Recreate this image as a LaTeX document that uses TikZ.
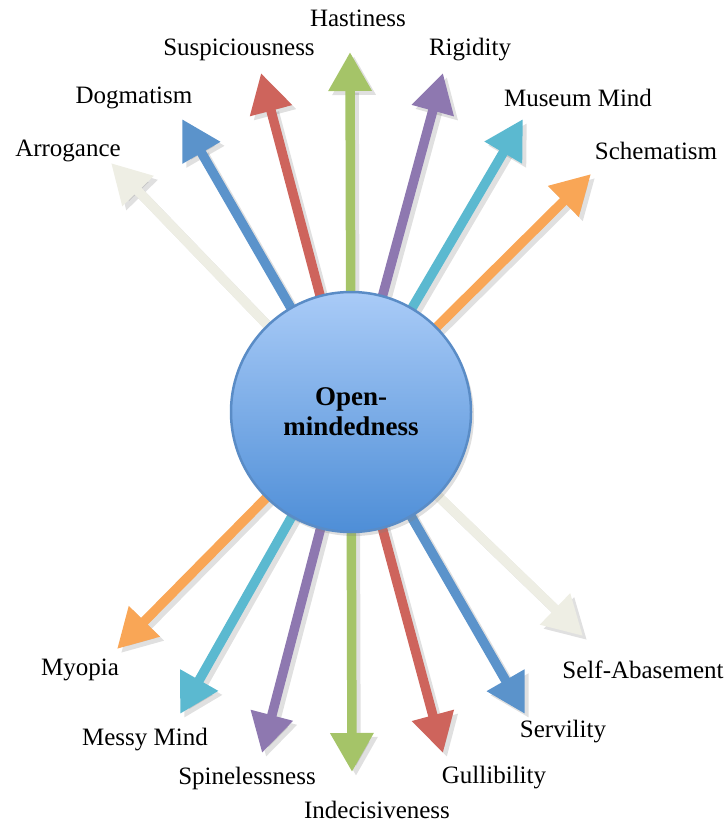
\documentclass[tikz,border=0pt]{standalone}
\usepackage{fontspec}
\setmainfont{Liberation Serif}
\usetikzlibrary{arrows.meta,shadows}
\pgfdeclarelayer{bg}
\pgfsetlayers{bg,main}
\definecolor{cgreen}{HTML}{A5C468}
\definecolor{cred}{HTML}{CE645C}
\definecolor{cpurple}{HTML}{8E78B0}
\definecolor{cteal}{HTML}{5BB9D0}
\definecolor{corange}{HTML}{F9A656}
\definecolor{cblue}{HTML}{5B93CB}
\definecolor{cbeige}{HTML}{EEEEE4}
\definecolor{ctop}{HTML}{A9CBF7}
\definecolor{cbot}{HTML}{4E8ED7}
\definecolor{cborder}{HTML}{5A8CC6}
\tikzset{
  lbl/.style={font=\fontsize{25}{28}\selectfont, inner sep=0pt},
  arr/.style={line width=9.5pt, -{Triangle[length=39pt,width=41pt]}},
  shd/.style={line width=9.5pt, -{Triangle[length=39pt,width=41pt]}, draw=black, opacity=0.12},
  hub/.style={circle, minimum size=240pt, draw=cborder, line width=2.5pt,
    top color=ctop, bottom color=cbot, align=center,
    font=\fontsize{27}{30}\selectfont\bfseries,
    drop shadow={opacity=0.25, shadow xshift=3pt, shadow yshift=-4pt}}
}
\newcommand{\myarrow}[2]{%
  \draw[shd, transform canvas={xshift=4pt,yshift=-4pt}] (c.center) -- (#2);
  \draw[arr, draw=#1] (c.center) -- (#2);}
\begin{document}
\begin{tikzpicture}[x=1pt,y=-1pt]
\useasboundingbox (0,0) rectangle (727,824);
\node[hub] (c) at (351,412) {Open-\\mindedness};
% tips
\coordinate (tHas) at (350,52);
\coordinate (tSus) at (261,73);
\coordinate (tDog) at (182,119);
\coordinate (tArr) at (111,163);
\coordinate (tRig) at (443,73);
\coordinate (tMus) at (523,119);
\coordinate (tSch) at (591,174);
\coordinate (tMyo) at (117,649);
\coordinate (tMes) at (180,714);
\coordinate (tSpi) at (262,753);
\coordinate (tInd) at (352,772);
\coordinate (tGul) at (443,753);
\coordinate (tSer) at (525,714);
\coordinate (tSel) at (583,636);
\begin{pgfonlayer}{bg}
\myarrow{cgreen}{tHas}
\myarrow{cred}{tSus}
\myarrow{cblue}{tDog}
\myarrow{cbeige}{tArr}
\myarrow{cpurple}{tRig}
\myarrow{cteal}{tMus}
\myarrow{corange}{tSch}
\myarrow{corange}{tMyo}
\myarrow{cteal}{tMes}
\myarrow{cpurple}{tSpi}
\myarrow{cgreen}{tInd}
\myarrow{cred}{tGul}
\myarrow{cblue}{tSer}
\myarrow{cbeige}{tSel}
\end{pgfonlayer}
% labels
\node[lbl] (lHas) at (358,18) {Hastiness};
\node[lbl] (lSus) at (239,50) {Suspiciousness};
\node[lbl] (lDog) at (134,98) {Dogmatism};
\node[lbl] (lArr) at (68,151) {Arrogance};
\node[lbl] (lRig) at (470,50) {Rigidity};
\node[lbl] (lMus) at (578,98) {Museum Mind};
\node[lbl] (lSch) at (656,151) {Schematism};
\node[lbl] (lMyo) at (80,670) {Myopia};
\node[lbl] (lMes) at (145,740) {Messy Mind};
\node[lbl] (lSpi) at (247,778) {Spinelessness};
\node[lbl] (lInd) at (377,810) {Indecisiveness};
\node[lbl] (lGul) at (494,778) {Gullibility};
\node[lbl] (lSer) at (563,732) {Servility};
\node[lbl] (lSel) at (643,670) {Self-Abasement};
\end{tikzpicture}
\end{document}
